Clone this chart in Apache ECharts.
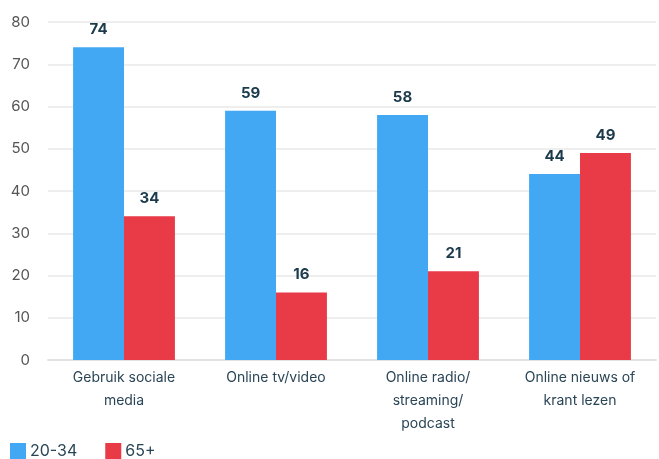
<!DOCTYPE html>
<html><head><meta charset="utf-8">
<script src="https://cdn.jsdelivr.net/npm/echarts@6/dist/echarts.min.js"></script>
<style>html,body{margin:0;padding:0;background:#fff}#c{width:659px;height:459px}</style>
</head><body><div id="c"></div>
<script>
const categories = ["Gebruik sociale\nmedia", "Online tv/video", "Online radio/\nstreaming/\npodcast", "Online nieuws of\nkrant lezen"];
const seriesNames = ["20-34", "65+"];
const young = [74, 59, 58, 44];
const old = [34, 16, 21, 49];
const yTicks = [0, 10, 20, 30, 40, 50, 60, 70, 80];

const chart = echarts.init(document.getElementById('c'), null, {renderer: 'canvas'});
const font = 'Inter, "Noto Sans", sans-serif';
const labelStyle = {show: true, position: 'top', distance: 10, fontFamily: font, fontWeight: 'bold', fontSize: 15, color: '#1b3a4b'};
chart.setOption({
  animation: false,
  grid: {left: 48, right: 3, top: 22, bottom: 99},
  legend: {
    left: 10, top: 443, itemWidth: 16, itemHeight: 16, itemGap: 28,
    icon: 'rect', padding: 0,
    textStyle: {fontFamily: font, fontSize: 16, color: '#2a4556', padding: [0, 0, 0, -1]},
    data: seriesNames
  },
  xAxis: {
    type: 'category', data: categories,
    axisLine: {show: true, lineStyle: {color: '#e2e2e2', width: 2}},
    axisTick: {show: false},
    axisLabel: {fontFamily: font, fontSize: 14, color: '#2a4556', lineHeight: 23, margin: 6, interval: 0}
  },
  yAxis: {
    type: 'value', min: yTicks[0], max: yTicks[yTicks.length - 1], interval: 10,
    axisLabel: {fontFamily: font, fontSize: 15, color: '#555', margin: 18},
    splitLine: {lineStyle: {color: '#e8e8e8', width: 1.5}},
    axisLine: {show: false}, axisTick: {show: false}
  },
  series: [
    {name: seriesNames[0], type: 'bar', data: young, itemStyle: {color: '#42a8f4'}, barGap: '0%', barCategoryGap: '33%', label: labelStyle},
    {name: seriesNames[1], type: 'bar', data: old, itemStyle: {color: '#e83a47'}, label: labelStyle}
  ]
});
</script></body></html>
